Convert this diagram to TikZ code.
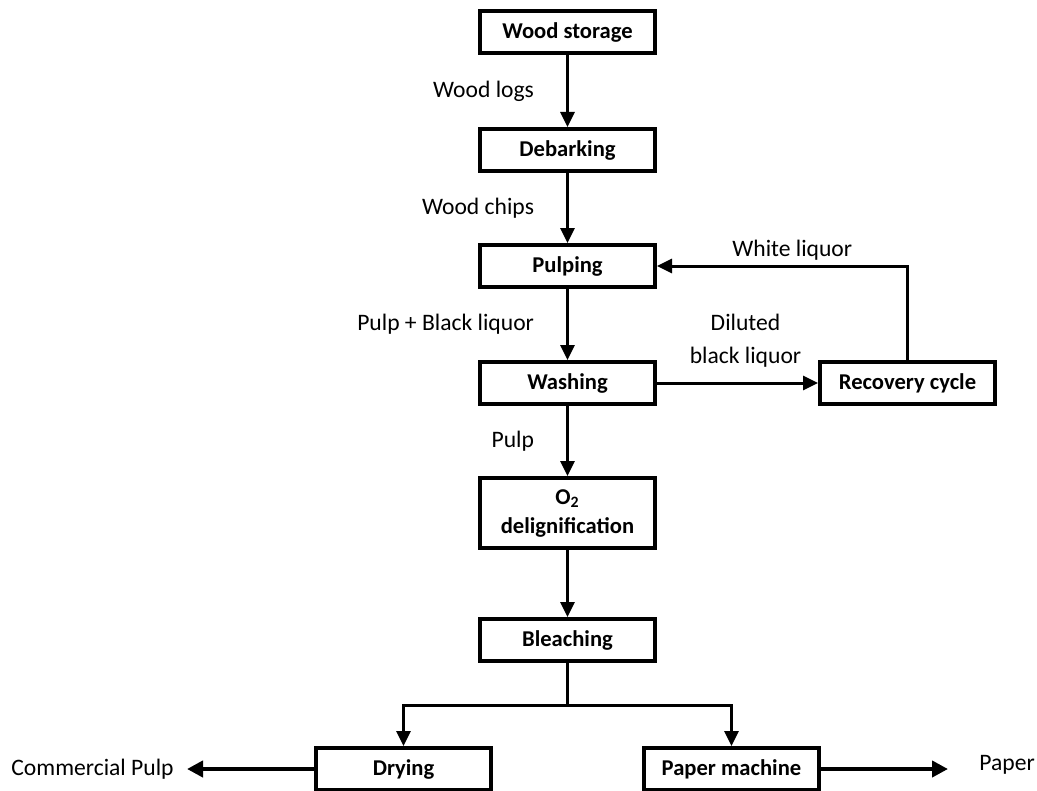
\documentclass[tikz,border=0pt]{standalone}
\usepackage{fontspec}
\setmainfont{Carlito}
\usepackage{tikz}
\usetikzlibrary{arrows.meta, positioning, calc}
\tikzset{
  procbox/.style={rectangle,draw=black,line width=2pt,minimum width=87.5pt,minimum height=21pt,align=center,font=\fontsize{11.3pt}{14.5pt}\selectfont\bfseries},
  flowlbl/.style={inner sep=0pt,align=center,font=\fontsize{11.8pt}{16.5pt}\selectfont},
  outlbl/.style={inner sep=0pt,font=\fontsize{11.8pt}{14pt}\selectfont},
  arr/.style={-{Triangle[length=7.5pt,width=7pt]},line width=1.5pt},
  outarr/.style={-{Triangle[length=8pt,width=8pt]},line width=2pt}
}

\begin{document}
\begin{tikzpicture}
  \useasboundingbox (0,0) rectangle (518.5pt,-395.5pt);

  %% Main line
  \node[procbox] (wstore) at (283.75pt,-16pt) {Wood storage};
  \node[procbox,below=36pt of wstore] (debark) {Debarking};
  \node[procbox,below=35pt of debark] (pulping) {Pulping};
  \node[procbox,below=35.5pt of pulping] (washing) {Washing};
  \node[procbox,minimum height=35pt,below=35pt of washing] (o2del)
    {O\textsubscript{2}\\delignification};
  \node[procbox,below=33.5pt of o2del] (bleach) {Bleaching};

  %% Recovery loop
  \node[procbox,right=80.5pt of washing] (recov) {Recovery cycle};

  %% Products
  \node[procbox,below=41.5pt of bleach,xshift=-82pt] (drying) {Drying};
  \node[procbox,below=41.5pt of bleach,xshift=82pt] (papmach) {Paper machine};
  \node[outlbl,left=70pt of drying] (compulp) {Commercial Pulp};
  \node[outlbl,right=79pt of papmach,yshift=2pt] (paper) {Paper};
  \coordinate (split) at ($(bleach.south)+(0,-21pt)$);

  %% Arrows
  \draw[arr] (wstore) -- node[flowlbl,left=16pt] {Wood logs} (debark);
  \draw[arr] (debark) -- node[flowlbl,left=16pt] {Wood chips} (pulping);
  \draw[arr] (pulping) -- node[flowlbl,left=16pt] {Pulp + Black liquor} (washing);
  \draw[arr] (washing) -- node[flowlbl,left=16pt] {Pulp} (o2del);
  \draw[arr] (o2del) -- (bleach);
  \draw[arr] (washing) -- node[flowlbl,above=7pt,xshift=4pt] {Diluted\\black liquor} (recov);
  \draw[arr] (recov.north) |- node[flowlbl,pos=0.73,above=2pt] {White liquor} (pulping.east);
  \draw[arr] (bleach.south) -- (split) -| (drying.north);
  \draw[arr] (split) -| (papmach.north);
  \draw[outarr,shorten >=6.5pt] (drying) -- (drying.west -| compulp.east);
  \draw[outarr,shorten >=15.5pt] (papmach) -- (papmach.east -| paper.west);
\end{tikzpicture}
\end{document}
